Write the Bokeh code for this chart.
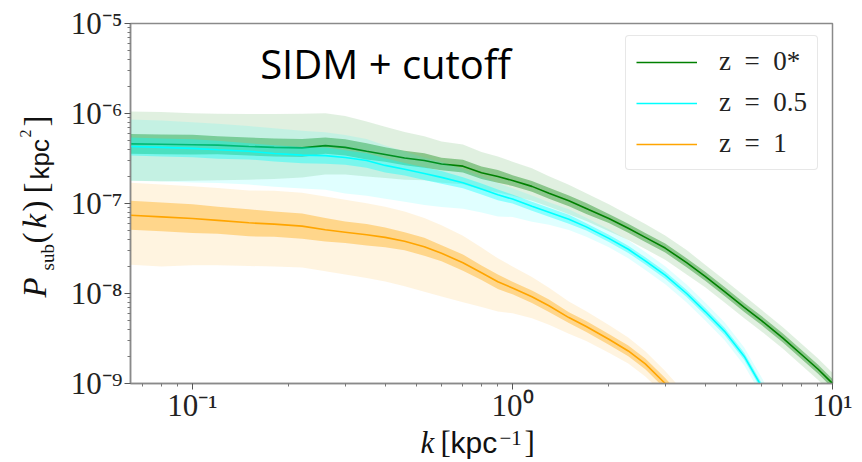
import numpy as np
from bokeh.plotting import figure
from bokeh.layouts import row, column
from bokeh.models import (ColumnDataSource, FixedTicker, Label, Legend, LegendItem,
                          CustomJSTickFormatter, Range1d)
from bokeh.core.properties import value
from bokeh.embed import file_html
from bokeh.resources import INLINE

# wavenumber grid [kpc^-1]
k = [0.064, 0.08, 0.1, 0.12, 0.15, 0.18, 0.22, 0.26, 0.3, 0.35,
     0.4, 0.46, 0.53, 0.6, 0.7, 0.8, 0.9, 1.0, 1.15, 1.3,
     1.5, 1.7, 2.0, 2.3, 2.6, 3.0, 3.5, 4.0, 4.6, 5.3,
     6.0, 7.0, 8.0, 9.0, 10.0]

# median substructure power spectra [kpc^2]
green_med = [4.6e-7, 4.55e-7, 4.5e-7, 4.45e-7, 4.3e-7, 4.2e-7, 4.15e-7, 4.4e-7, 4.2e-7, 3.8e-7,
             3.5e-7, 3.2e-7, 3.0e-7, 2.75e-7, 2.6e-7, 2.2e-7, 2.0e-7, 1.8e-7, 1.55e-7, 1.3e-7,
             1.07e-7, 8.8e-8, 6.8e-8, 5.3e-8, 4.2e-8, 3.2e-8, 2.2e-8, 1.55e-8, 1.05e-8, 7.0e-9,
             5.0e-9, 3.2e-9, 2.1e-9, 1.45e-9, 1.0e-9]
cyan_med = [4.3e-7, 4.2e-7, 4.1e-7, 3.95e-7, 3.8e-7, 3.6e-7, 3.45e-7, 3.4e-7, 3.25e-7, 3.0e-7,
            2.65e-7, 2.4e-7, 2.15e-7, 1.95e-7, 1.7e-7, 1.45e-7, 1.25e-7, 1.12e-7, 9.3e-8, 8.0e-8,
            6.7e-8, 5.5e-8, 4.1e-8, 3.1e-8, 2.3e-8, 1.6e-8, 1.0e-8, 6.3e-9, 3.8e-9, 2.0e-9,
            9.3e-10, 3.5e-10, 1.3e-10, 5e-11, 2e-11]
orange_med = [7.4e-8, 7.1e-8, 6.8e-8, 6.5e-8, 6.1e-8, 5.9e-8, 5.6e-8, 5.1e-8, 4.8e-8, 4.5e-8,
              4.2e-8, 3.8e-8, 3.3e-8, 2.8e-8, 2.2e-8, 1.7e-8, 1.35e-8, 1.15e-8, 9.2e-9, 7.3e-9,
              5.4e-9, 4.3e-9, 3.1e-9, 2.3e-9, 1.65e-9, 1.0e-9, 5.5e-10, 3.0e-10, 1.4e-10, 6e-11,
              2.5e-11, 8e-12, 3e-12, 1e-12, 4e-13]

# scatter widths in dex: outer envelope (up / down) and inner band (symmetric)
green_up = [0.36, 0.36, 0.35, 0.35, 0.36, 0.37, 0.38, 0.36, 0.35, 0.33,
            0.31, 0.29, 0.27, 0.25, 0.24, 0.23, 0.22, 0.21, 0.2, 0.19,
            0.18, 0.17, 0.16, 0.15, 0.15, 0.14, 0.14, 0.13, 0.13, 0.13,
            0.12, 0.12, 0.12, 0.12, 0.12]
green_dn = [0.41, 0.41, 0.40, 0.39, 0.37, 0.35, 0.33, 0.32, 0.30, 0.28,
            0.26, 0.24, 0.22, 0.21, 0.2, 0.19, 0.18, 0.17, 0.16, 0.15,
            0.15, 0.14, 0.14, 0.13, 0.13, 0.13, 0.13, 0.12, 0.12, 0.12,
            0.12, 0.12, 0.12, 0.12, 0.12]
green_in = [0.11, 0.11, 0.11, 0.1, 0.1, 0.1, 0.1, 0.09, 0.09, 0.09,
            0.08, 0.08, 0.08, 0.07, 0.07, 0.07, 0.07, 0.06, 0.06, 0.06,
            0.06, 0.06, 0.05, 0.05, 0.05, 0.05, 0.05, 0.05, 0.05, 0.05,
            0.05, 0.05, 0.05, 0.05, 0.05]
cyan_up = [0.30, 0.30, 0.29, 0.29, 0.28, 0.28, 0.27, 0.26, 0.25, 0.24,
           0.22, 0.2, 0.18, 0.17, 0.15, 0.14, 0.13, 0.12, 0.12, 0.11,
           0.11, 0.1, 0.1, 0.1, 0.1, 0.1, 0.1, 0.1, 0.1, 0.1,
           0.1, 0.1, 0.1, 0.1, 0.1]
cyan_dn = [0.38, 0.38, 0.38, 0.37, 0.37, 0.37, 0.37, 0.38, 0.40, 0.39,
           0.37, 0.36, 0.35, 0.33, 0.29, 0.26, 0.24, 0.2, 0.17, 0.14,
           0.12, 0.11, 0.1, 0.1, 0.1, 0.1, 0.1, 0.1, 0.1, 0.1,
           0.1, 0.1, 0.1, 0.1, 0.1]
cyan_in = [0.1, 0.1, 0.1, 0.1, 0.09, 0.09, 0.09, 0.09, 0.08, 0.08,
           0.08, 0.07, 0.07, 0.07, 0.06, 0.06, 0.06, 0.05, 0.05, 0.05,
           0.05, 0.04, 0.04, 0.04, 0.04, 0.04, 0.04, 0.04, 0.04, 0.04,
           0.04, 0.04, 0.04, 0.04, 0.04]
orange_up = [0.36, 0.36, 0.36, 0.36, 0.36, 0.37, 0.37, 0.37, 0.36, 0.35,
             0.34, 0.33, 0.32, 0.31, 0.3, 0.28, 0.26, 0.24, 0.22, 0.2,
             0.18, 0.17, 0.16, 0.15, 0.14, 0.14, 0.13, 0.13, 0.13, 0.13,
             0.13, 0.13, 0.13, 0.13, 0.13]
orange_dn = [0.55, 0.55, 0.52, 0.5, 0.48, 0.47, 0.46, 0.46, 0.47, 0.48,
             0.49, 0.5, 0.5, 0.48, 0.44, 0.38, 0.33, 0.28, 0.24, 0.21,
             0.18, 0.16, 0.15, 0.14, 0.14, 0.13, 0.13, 0.13, 0.13, 0.13,
             0.13, 0.13, 0.13, 0.13, 0.13]
orange_in = [0.16, 0.16, 0.16, 0.15, 0.15, 0.14, 0.14, 0.13, 0.12, 0.12,
             0.11, 0.1, 0.1, 0.09, 0.09, 0.08, 0.08, 0.07, 0.07, 0.07,
             0.06, 0.06, 0.06, 0.06, 0.06, 0.06, 0.06, 0.06, 0.06, 0.06,
             0.06, 0.06, 0.06, 0.06, 0.06]

labels = ["z\u2002=\u20020*", "z\u2002=\u20020.5", "z\u2002=\u20021"]
colors = ["#008000", "#00ffff", "#ffa500"]

x_ticks = [0.1, 1.0, 10.0]
y_ticks = [1e-9, 1e-8, 1e-7, 1e-6, 1e-5]

X0, X1 = 0.064, 10.0
Y0, Y1 = 1e-9, 1e-5

# page layout: a narrow strip for the y label, the main plot, a strip for the x label
W, H = 862, 462
LEFT_W = 58
MAIN_H = 426
FRAME_L, FRAME_R = 130, 832   # page x of the plot frame edges

p = figure(width=W - LEFT_W, height=MAIN_H, x_axis_type="log", y_axis_type="log",
           x_range=(X0, X1), y_range=(Y0, Y1),
           output_backend="svg", toolbar_location=None,
           min_border_left=FRAME_L - LEFT_W, min_border_right=W - FRAME_R,
           min_border_top=23, min_border_bottom=MAIN_H - 383)
p.title.visible = False
p.grid.visible = False
p.background_fill_color = "white"
p.border_fill_color = "white"
p.outline_line_color = "#8a8a8a"
p.outline_line_width = 1.5

series = [
    (labels[0], colors[0], green_med, green_up, green_dn, green_in),
    (labels[1], colors[1], cyan_med, cyan_up, cyan_dn, cyan_in),
    (labels[2], colors[2], orange_med, orange_up, orange_dn, orange_in),
]

items = []
for name, color, med, up, dn, inner in series:
    med = np.array(med)
    up, dn, inner = np.array(up), np.array(dn), np.array(inner)
    src = ColumnDataSource(dict(
        k=k, med=med,
        olo=med * 10.0 ** (-dn), ohi=med * 10.0 ** up,
        ilo=med * 10.0 ** (-inner), ihi=med * 10.0 ** inner,
    ))
    p.varea(x="k", y1="olo", y2="ohi", source=src, fill_color=color, fill_alpha=0.12)
    p.varea(x="k", y1="ilo", y2="ihi", source=src, fill_color=color, fill_alpha=0.38)
    r = p.line(x="k", y="med", source=src, line_color=color, line_width=1.6)
    items.append(LegendItem(label=name, renderers=[r]))

# axes: decade ticks with superscript exponents
sup_js = """
const sup = {'-': '\u207b', '0': '\u2070', '1': '\u00b9', '2': '\u00b2', '3': '\u00b3',
             '4': '\u2074', '5': '\u2075', '6': '\u2076', '7': '\u2077', '8': '\u2078', '9': '\u2079'};
const e = Math.round(Math.log10(tick));
return '10' + String(e).split('').map(c => sup[c]).join('');
"""
x_minor = [m * 10.0 ** d for d in (-2, -1, 0) for m in range(2, 10) if X0 <= m * 10.0 ** d <= X1]
y_minor = [m * 10.0 ** d for d in range(-9, -5) for m in range(2, 10)]
p.xaxis.ticker = FixedTicker(ticks=x_ticks, minor_ticks=x_minor)
p.yaxis.ticker = FixedTicker(ticks=y_ticks, minor_ticks=y_minor)
for ax in (p.xaxis[0], p.yaxis[0]):
    ax.formatter = CustomJSTickFormatter(code=sup_js)
    ax.axis_line_color = "#8a8a8a"
    ax.axis_line_width = 1.5
    ax.major_tick_in = 0
    ax.major_tick_out = 6
    ax.minor_tick_in = 0
    ax.minor_tick_out = 3
    ax.major_tick_line_color = "#555555"
    ax.minor_tick_line_color = "#777777"
    ax.major_label_text_font = "Liberation Serif"
    ax.major_label_text_font_size = "31px"
    ax.major_label_text_color = "#222222"
p.yaxis[0].major_label_standoff = 2
p.xaxis[0].major_label_standoff = -2

# panel annotation
p.add_layout(Label(x=X0, y=Y1, x_offset=255, y_offset=-40, text="SIDM + cutoff",
                   text_font="Open Sans", text_font_size="40px", text_baseline="middle",
                   text_align="center", text_color="#000000"))

legend = Legend(items=items, location=(495, 213), glyph_width=61, glyph_height=24,
                label_height=24, spacing=10, padding=10, label_standoff=22,
                label_text_font="Liberation Serif", label_text_font_size="27px",
                label_text_color="#222222",
                border_line_color="#d0d0d0", border_line_width=1,
                background_fill_color="white", background_fill_alpha=1.0)
if "border_radius" in Legend.properties():
    legend.border_radius = 4
p.add_layout(legend)


def strip(width, height, xr, yr):
    f = figure(width=width, height=height, x_range=Range1d(*xr), y_range=Range1d(*yr),
               x_axis_location=None, y_axis_location=None,
               output_backend="svg", toolbar_location=None, min_border=0)
    f.title.visible = False
    f.grid.visible = False
    f.outline_line_color = None
    f.background_fill_color = "white"
    f.border_fill_color = "white"
    return f


def piece(f, x, y, text, font, size, style="normal", angle=0.0):
    f.text(x=[x], y=[y], text=[text], text_font=value(font), text_font_size=size,
           text_font_style=style, text_baseline="middle", text_align="left",
           text_color="#111111", angle=angle)


# x-axis label strip; its frame lines up with the plot frame, so the x range
# spans the frame's page pixels (y measured from the top of the page)
bottom = strip(W - LEFT_W, H - MAIN_H, (FRAME_L, FRAME_R), (H, MAIN_H))
piece(bottom, 420, 442, "k", "Liberation Serif", "31px", "italic")
piece(bottom, 440, 442, "[", "Liberation Serif", "31px")
piece(bottom, 450, 442, "kpc", "Liberation Sans", "30px")
piece(bottom, 499, 437, "\u22121", "Liberation Serif", "21px")
piece(bottom, 524, 442, "]", "Liberation Serif", "31px")

# y-axis label strip, rotated text running upward
left = strip(LEFT_W, H, (0, LEFT_W), (H, 0))
up = np.pi / 2
piece(left, 34, 297, "P", "Liberation Serif", "33px", "italic", up)
piece(left, 47, 270, "sub", "Liberation Serif", "19px", "normal", up)
piece(left, 34, 243, "(", "Liberation Serif", "33px", "normal", up)
piece(left, 34, 228, "k", "Liberation Serif", "33px", "italic", up)
piece(left, 34, 211, ")", "Liberation Serif", "33px", "normal", up)
piece(left, 35, 193, "[", "Liberation Serif", "33px", "normal", up)
piece(left, 39, 179, "kpc", "Liberation Sans", "26px", "normal", up)
piece(left, 25, 137, "2", "Liberation Serif", "16px", "normal", up)
piece(left, 35, 126, "]", "Liberation Serif", "33px", "normal", up)

page = row(left, column(p, bottom))
open("out.html", "w").write(file_html(page, INLINE))
